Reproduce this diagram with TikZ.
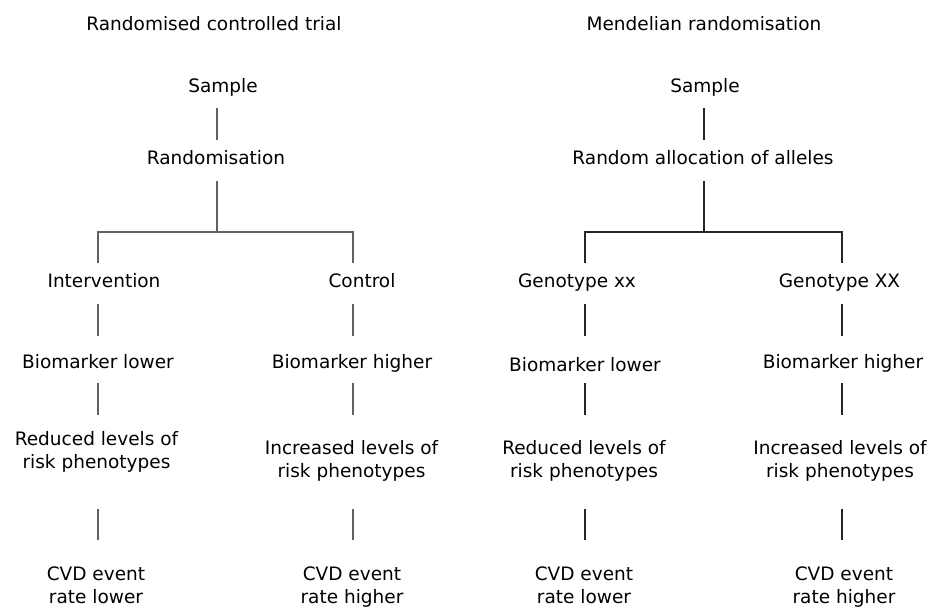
\documentclass[tikz,border=0pt]{standalone}
\usepackage{fontspec}
\setmainfont{DejaVu Sans}
\usetikzlibrary{calc}
\newcommand\myconn[6][connL]{\draw[#1] ($(#2.base -| #4)+(0,#5)$) -- ($(#3.base -| #4)+(0,#6)$);}
\begin{document}
\begin{tikzpicture}[x=1pt,y=-1pt,
  lbl/.style={inner sep=0pt,anchor=base,align=center,font=\fontsize{18.5}{23}\selectfont},
  connL/.style={draw=black!62,line width=1.2pt},
  connR/.style={draw=black!85,line width=1.2pt}]
\useasboundingbox (0,0) rectangle (931,608);
% columns
\coordinate (cL) at (217,0);
\coordinate (cR) at (704,0);
\coordinate (cA) at (98,0);
\coordinate (cB) at (353,0);
\coordinate (cC) at (585,0);
\coordinate (cD) at (842,0);
% titles
\node[lbl] (t1) at (214,30) {Randomised controlled trial};
\node[lbl] (t2) at (704,30) {Mendelian randomisation};
% left tree
\node[lbl] (samp1) at (223,92) {Sample};
\node[lbl] (rand1) at (216,164) {Randomisation};
\node[lbl] (int1) at (104,287) {Intervention};
\node[lbl] (ctrl1) at (362,287) {Control};
\node[lbl] (bio1) at (98,368) {Biomarker lower};
\node[lbl] (bioh1) at (352,368) {Biomarker higher};
\node[lbl] (red1) at (96.5,468) {Reduced levels of\\risk phenotypes};
\node[lbl] (inc1) at (351.5,477) {Increased levels of\\risk phenotypes};
\node[lbl] (cvd1) at (96,603) {CVD event\\rate lower};
\node[lbl] (cvd2) at (352,603) {CVD event\\rate higher};
% right tree
\node[lbl] (samp2) at (705,92) {Sample};
\node[lbl] (rand2) at (703,164) {Random allocation of alleles};
\node[lbl] (geno1) at (577,287) {Genotype xx};
\node[lbl] (geno2) at (839.5,287) {Genotype XX};
\node[lbl] (bio2) at (585,371) {Biomarker lower};
\node[lbl] (bioh2) at (843,368) {Biomarker higher};
\node[lbl] (red2) at (584,477) {Reduced levels of\\risk phenotypes};
\node[lbl] (inc2) at (840,477) {Increased levels of\\risk phenotypes};
\node[lbl] (cvd3) at (584,603) {CVD event\\rate lower};
\node[lbl] (cvd4) at (844,603) {CVD event\\rate higher};
% left connectors
\myconn{samp1}{rand1}{cL}{16}{-24}
\myconn{rand1}{int1}{cL}{17}{-55}
\draw[connL] ($(int1.base -| cA)+(0,-24)$) |- ($(ctrl1.base -| cB)+(0,-55)$) -- ($(ctrl1.base -| cB)+(0,-24)$);
\myconn{int1}{bio1}{cA}{17}{-32}
\myconn{bio1}{red1}{cA}{15}{-53}
\myconn{red1}{cvd1}{cA}{41}{-63}
\myconn{ctrl1}{bioh1}{cB}{17}{-32}
\myconn{bioh1}{inc1}{cB}{15}{-62}
\myconn{inc1}{cvd2}{cB}{32}{-63}
% right connectors
\myconn[connR]{samp2}{rand2}{cR}{16}{-24}
\myconn[connR]{rand2}{geno1}{cR}{17}{-55}
\draw[connR] ($(geno1.base -| cC)+(0,-24)$) |- ($(geno2.base -| cD)+(0,-55)$) -- ($(geno2.base -| cD)+(0,-24)$);
\myconn[connR]{geno1}{bio2}{cC}{17}{-35}
\myconn[connR]{bio2}{red2}{cC}{12}{-62}
\myconn[connR]{red2}{cvd3}{cC}{32}{-63}
\myconn[connR]{geno2}{bioh2}{cD}{17}{-32}
\myconn[connR]{bioh2}{inc2}{cD}{15}{-62}
\myconn[connR]{inc2}{cvd4}{cD}{32}{-63}
\end{tikzpicture}
\end{document}
